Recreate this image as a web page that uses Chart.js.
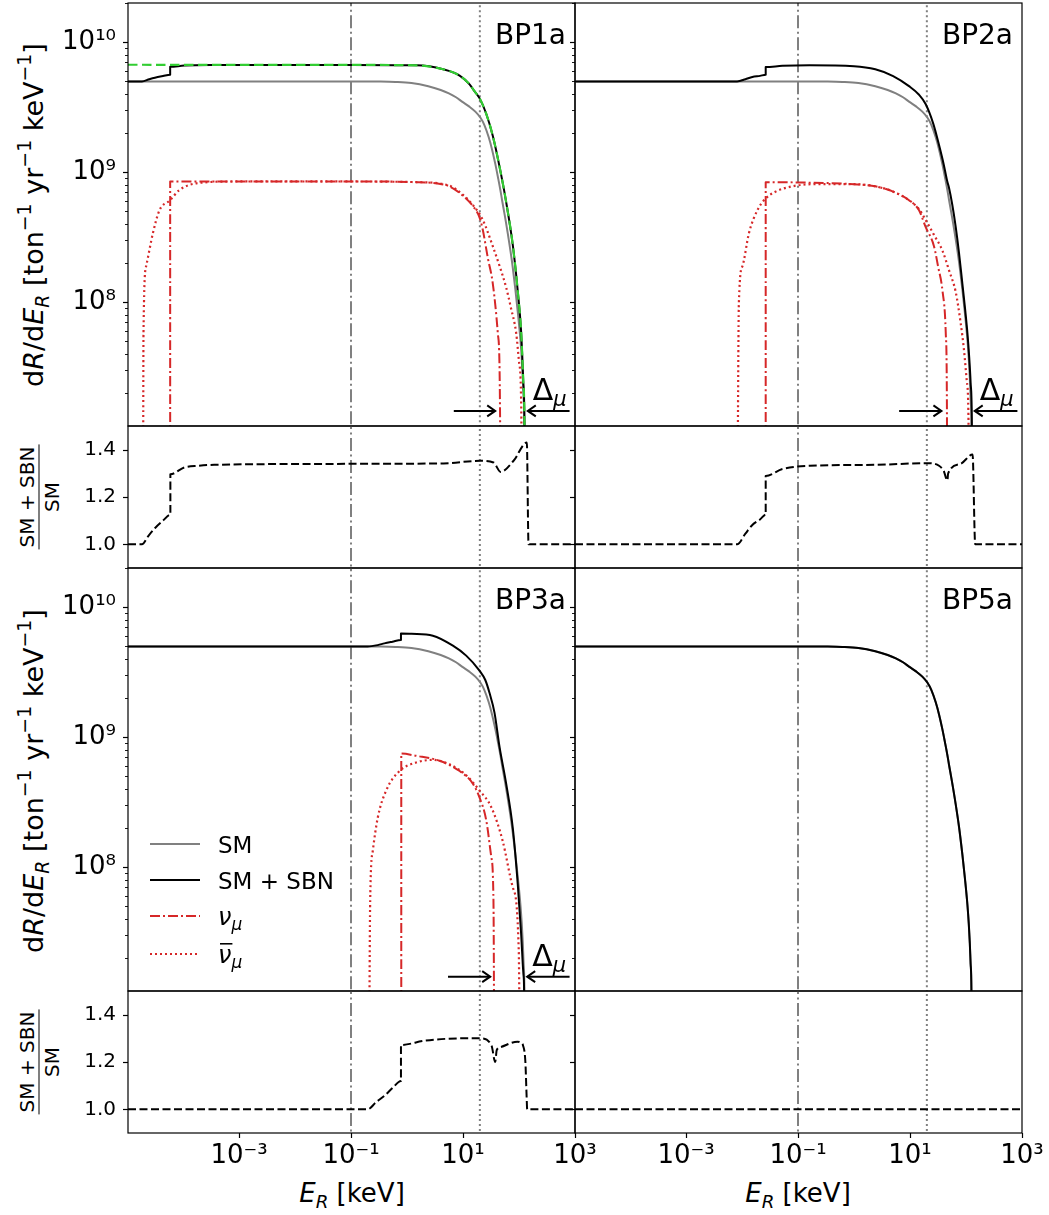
<!DOCTYPE html>
<html lang="en">
<head>
<meta charset="utf-8">
<title>Recoil spectra BP1a–BP5a</title>
<script src="https://cdn.jsdelivr.net/npm/chart.js@4.4.1/dist/chart.umd.min.js"></script>
<style>
  html, body { margin: 0; padding: 0; background: #fff; }
  #fig { position: relative; width: 1049px; height: 1215px; overflow: hidden;
         font-family: 'DejaVu Sans', sans-serif; color: #000; background: #fff; }
  #fig canvas { position: absolute; }
  .t { position: absolute; white-space: nowrap; line-height: 1; transform: translate(-50%, -50%); }
  .r { transform: translate(-50%, -50%) rotate(-90deg); }
  .t sup, .t sub { font-size: 70%; line-height: 0; position: relative; vertical-align: baseline; }
  .t sup { top: -0.62em; }
  .t sub { top: 0.32em; }
  .frac { display: flex; flex-direction: column; align-items: center; font-size: 20px; }
  .frac .n { border-bottom: 1.4px solid #000; padding: 0 2px 2px 2px; }
  .frac .d { padding-top: 2px; }
</style>
</head>
<body>
<div id="fig">
  <div class="t r" style="left:33px;top:215px;font-size:27px">d<i>R</i>/d<i>E</i><sub><i>R</i></sub> [ton<sup>−1</sup> yr<sup>−1</sup> keV<sup>−1</sup>]</div>
  <div class="t r" style="left:33px;top:781px;font-size:27px">d<i>R</i>/d<i>E</i><sub><i>R</i></sub> [ton<sup>−1</sup> yr<sup>−1</sup> keV<sup>−1</sup>]</div>
  <div class="t r frac" style="left:39px;top:497px"><div class="n">SM + SBN</div><div class="d">SM</div></div>
  <div class="t r frac" style="left:39px;top:1062px"><div class="n">SM + SBN</div><div class="d">SM</div></div>
  <div class="t" style="left:352px;top:1193px;font-size:26px"><i>E</i><sub><i>R</i></sub> [keV]</div>
  <div class="t" style="left:798px;top:1193px;font-size:26px"><i>E</i><sub><i>R</i></sub> [keV]</div>
</div>
<script>
// ---------------- data ----------------
// x: recoil energy E_R [keV]; y: dR/dE_R [ton^-1 yr^-1 keV^-1]; ratio: (SM+SBN)/SM
const X_MIN = 1.042e-5, X_MAX = 1000;
const Y_MIN = 1.117e7, Y_MAX = 2.007e10;
const RATIO_MIN = 0.9, RATIO_MAX = 1.5;

const X_TICKS = [1e-3, 1e-1, 1e1, 1e3];
const X_TICK_LABELS = ['10⁻³', '10⁻¹', '10¹', '10³'];
const Y_MAJOR_TICKS = [1e8, 1e9, 1e10];
const Y_MAJOR_LABELS = ['10⁸', '10⁹', '10¹⁰'];
const Y_MINOR_TICKS = [2e7, 3e7, 4e7, 5e7, 6e7, 7e7, 8e7, 9e7,
                       2e8, 3e8, 4e8, 5e8, 6e8, 7e8, 8e8, 9e8,
                       2e9, 3e9, 4e9, 5e9, 6e9, 7e9, 8e9, 9e9, 2e10];
const RATIO_TICKS = [1.0, 1.2, 1.4];
const RATIO_TICK_LABELS = ['1.0', '1.2', '1.4'];

const PANEL_LABELS = ['BP1a', 'BP2a', 'BP3a', 'BP5a'];
const LEGEND_LABELS = ['SM', 'SM + SBN', 'ν_μ', 'ν̄_μ'];

// vertical reference lines [keV]
const REF_DASHDOT_E = 0.1;
const REF_DOTTED_E = 20;

// Standard-model spectrum (same in every panel)
const SM_E = [1.042e-5, 0.1, 0.3, 0.62, 1.2, 2.4, 4, 5.6, 7.5, 9.6, 13, 16.6, 20.4, 24, 28.8, 33, 37.9, 42, 46.5, 49.7, 56, 65.5, 75, 86, 96, 106, 112, 117, 121, 125, 128];
const SM_R = [5.0e9, 5.0e9, 4.99e9, 4.96e9, 4.87e9, 4.6e9, 4.3e9, 4.05e9, 3.78e9, 3.5e9, 3.2e9, 2.93e9, 2.64e9, 2.32e9, 1.86e9, 1.5e9, 1.15e9, 9.2e8, 7.3e8, 6.15e8, 4.6e8, 3.05e8, 2.05e8, 1.26e8, 8.1e7, 5.15e7, 3.7e7, 2.6e7, 1.8e7, 1.11e7, 1e6];

// BP1a
const BP1A_TOT_E = [1.042e-5, 1.85e-5, 2.5e-5, 3.15e-5, 4.4e-5, 5.9e-5, 5.9e-5, 1.06e-4, 3.6e-4, 0.1, 1.46, 4.4, 8.7, 13.1, 16, 19.7, 26, 34, 45, 59, 77.5, 95, 109, 119, 125, 129];
const BP1A_TOT_R = [5.0e9, 5.0e9, 5.2e9, 5.34e9, 5.5e9, 5.63e9, 6.48e9, 6.63e9, 6.68e9, 6.7e9, 6.65e9, 6.2e9, 5.55e9, 4.75e9, 4.21e9, 3.72e9, 2.82e9, 1.91e9, 1.1e9, 5.9e8, 2.75e8, 1.22e8, 6.0e7, 2.5e7, 1.2e7, 1e6];
const BP1A_GREEN_E = [1.042e-5, 1e-3, 0.1, 1.46, 4.4, 8.7, 13.1, 16, 19.7, 26, 34, 45, 59, 77.5, 95, 109, 119, 125, 129];
const BP1A_GREEN_R = [6.72e9, 6.71e9, 6.7e9, 6.65e9, 6.2e9, 5.55e9, 4.75e9, 4.21e9, 3.72e9, 2.82e9, 1.91e9, 1.1e9, 5.9e8, 2.75e8, 1.22e8, 6.0e7, 2.5e7, 1.2e7, 1e6];
const BP1A_NUMU_E = [5.9e-5, 5.9e-5, 1e-3, 0.1, 1.5, 3.5, 5.7, 10, 15, 19.7, 22.6, 27.7, 34, 41.8, 45, 48];
const BP1A_NUMU_R = [1e5, 8.5e8, 8.5e8, 8.5e8, 8.4e8, 8.2e8, 7.8e8, 6.6e8, 5.5e8, 4.5e8, 3.6e8, 2.2e8, 1.4e8, 5.8e7, 3.0e7, 1e6];
const BP1A_NUMUBAR_E = [1.93e-5, 1.97e-5, 2.2e-5, 2.9e-5, 3.8e-5, 5.9e-5, 8.6e-5, 2e-4, 1e-3, 0.1, 1.5, 5.7, 10, 15, 22.6, 34, 45, 59, 72, 89, 100, 109, 115];
const BP1A_NUMUBAR_R = [1e6, 5.8e7, 1.9e8, 3.4e8, 5.1e8, 6.1e8, 7.3e8, 8.3e8, 8.5e8, 8.5e8, 8.4e8, 7.9e8, 6.7e8, 5.6e8, 4.3e8, 2.7e8, 1.9e8, 1.3e8, 9e7, 5.8e7, 3.5e7, 1.8e7, 1e6];
const BP1A_RATIO_E = [1.042e-5, 1.85e-5, 2.4e-5, 3.15e-5, 4.4e-5, 5.95e-5, 5.95e-5, 1.06e-4, 1.9e-4, 3.6e-4, 0.1, 4.5, 20.4, 35, 47, 80, 138, 148, 1000];
const BP1A_RATIO_R = [1.0, 1.0, 1.035, 1.068, 1.1, 1.125, 1.296, 1.325, 1.332, 1.336, 1.34, 1.342, 1.353, 1.346, 1.306, 1.353, 1.43, 1.0, 1.0];
const BP1A_ARROWS = [[6.85, 37.6, 1.46e7], [800, 143.6, 1.46e7]];

// BP2a
const BP2A_TOT_E = [1.042e-5, 8.2e-3, 0.0115, 0.0153, 0.021, 0.0265, 0.0265, 0.0526, 0.16, 1, 2.4, 5, 9.6, 14.5, 19, 26, 33, 40, 46, 49.7, 57, 65.5, 75, 86, 96, 106, 114, 121, 127, 132];
const BP2A_TOT_R = [5.0e9, 5.0e9, 5.2e9, 5.41e9, 5.52e9, 5.63e9, 6.45e9, 6.59e9, 6.66e9, 6.55e9, 6.2e9, 5.5e9, 4.6e9, 3.95e9, 3.35e9, 2.37e9, 1.62e9, 1.15e9, 8.6e8, 7.6e8, 5.6e8, 3.8e8, 2.4e8, 1.4e8, 9.0e7, 5.8e7, 3.8e7, 2.4e7, 1.3e7, 1e6];
const BP2A_NUMU_E = [0.0265, 0.0265, 0.1, 1, 2.4, 5, 9.6, 14.5, 19, 26.8, 32, 37.9, 43.5, 45.5, 46.5];
const BP2A_NUMU_R = [1e5, 8.4e8, 8.35e8, 8.1e8, 7.8e8, 7.1e8, 6.1e8, 5.1e8, 3.8e8, 2.7e8, 1.85e8, 1.24e8, 5.8e7, 2e7, 1e6];
const BP2A_NUMUBAR_E = [8.2e-3, 8.8e-3, 0.0102, 0.0133, 0.0188, 0.0265, 0.04, 0.079, 0.2, 1, 2.4, 5, 9.6, 14.5, 19, 26.8, 37.9, 50, 65.5, 80, 92, 103, 110, 116];
const BP2A_NUMUBAR_R = [1e6, 1e8, 1.9e8, 3.4e8, 5.1e8, 6.3e8, 7.1e8, 7.8e8, 8.1e8, 8.1e8, 7.8e8, 7.1e8, 6.1e8, 5.2e8, 4.3e8, 3.3e8, 2.5e8, 1.75e8, 1.2e8, 7e7, 4.3e7, 2.5e7, 1.5e7, 1e6];
const BP2A_RATIO_E = [1.042e-5, 8.2e-3, 0.0115, 0.0153, 0.021, 0.0265, 0.0265, 0.0526, 0.16, 2.4, 21.8, 33, 40, 46.5, 48, 80, 131, 146, 1000];
const BP2A_RATIO_R = [1.0, 1.0, 1.045, 1.082, 1.105, 1.125, 1.289, 1.318, 1.332, 1.336, 1.343, 1.332, 1.31, 1.27, 1.30, 1.34, 1.38, 1.0, 1.0];
const BP2A_ARROWS = [[6.4, 36.4, 1.46e7], [828, 143, 1.46e7]];

// BP3a
const BP3A_TOT_E = [1.042e-5, 0.198, 0.3, 0.394, 0.55, 0.78, 0.78, 1.2, 2.89, 6.6, 11.4, 19.7, 25, 29.7, 36.5, 45, 59, 77.5, 95, 109, 120, 123, 127];
const BP3A_TOT_R = [5.0e9, 5.0e9, 5.12e9, 5.28e9, 5.44e9, 5.6e9, 6.3e9, 6.25e9, 6.05e9, 5.07e9, 4.25e9, 3.26e9, 2.76e9, 2.2e9, 1.55e9, 8.4e8, 4.4e8, 2.0e8, 7.4e7, 3.1e7, 1.5e7, 1.2e7, 1e6];
const BP3A_NUMU_E = [0.79, 0.79, 1.46, 3.8, 8.7, 15, 19.7, 26, 32, 35, 36.5];
const BP3A_NUMU_R = [1e5, 7.5e8, 7.2e8, 6.6e8, 5.5e8, 4.4e8, 3.45e8, 2.3e8, 1.2e8, 5.5e7, 1e6];
const BP3A_NUMUBAR_E = [0.208, 0.22, 0.245, 0.3, 0.425, 0.735, 1.46, 2.9, 5.7, 11.4, 19.7, 32, 51, 77.5, 99, 105];
const BP3A_NUMUBAR_R = [1e6, 5.5e7, 1.34e8, 2.4e8, 3.9e8, 5.5e8, 6.4e8, 6.7e8, 6.2e8, 5.1e8, 3.9e8, 2.9e8, 1.6e8, 7.0e7, 2.3e7, 1e6];
const BP3A_RATIO_E = [1.042e-5, 0.198, 0.28, 0.394, 0.55, 0.78, 0.78, 2.1, 10, 20.4, 32.3, 37.6, 40, 47, 94, 110, 118, 130, 137, 140, 1000];
const BP3A_RATIO_R = [1.0, 1.0, 1.03, 1.057, 1.09, 1.12, 1.272, 1.29, 1.30, 1.30, 1.27, 1.20, 1.25, 1.263, 1.286, 1.28, 1.27, 1.2, 1.05, 1.0, 1.0];
const BP3A_ARROWS = [[5.4, 30.6, 1.44e7], [800, 140, 1.44e7]];

// BP5a (SM+SBN coincides with SM)
const BP5A_TOT_E = SM_E;
const BP5A_TOT_R = SM_R;
const BP5A_RATIO_E = [1.042e-5, 1000];
const BP5A_RATIO_R = [1.0, 1.0];

// ---------------- styling ----------------
const FONT = "'DejaVu Sans', sans-serif";
const GRAY = '#808080', RED = '#d62728', GREEN = '#32cd32', BLACK = '#000000';
const STY = {
  sm:      { borderColor: GRAY,  borderWidth: 2,   borderDash: [] },
  tot:     { borderColor: BLACK, borderWidth: 2,   borderDash: [] },
  numu:    { borderColor: RED,   borderWidth: 2,   borderDash: [10, 3, 2, 3] },
  numubar: { borderColor: RED,   borderWidth: 2.2, borderDash: [2, 3] },
  green:   { borderColor: GREEN, borderWidth: 2.2, borderDash: [9.5, 4.5] },
  ratio:   { borderColor: BLACK, borderWidth: 2,   borderDash: [8, 3.5] },
  vdd:     { borderColor: GRAY,  borderWidth: 2,   borderDash: [13, 3.5, 2, 3.5] },
  vdot:    { borderColor: GRAY,  borderWidth: 2,   borderDash: [2, 3] }
};
Chart.defaults.font.family = FONT;
Chart.defaults.color = '#000';

function P(E, R) { return E.map((e, i) => ({ x: e, y: R[i] })); }
function line(data, style, order, smooth) {
  const d = Object.assign({ data, order, pointRadius: 0, pointHoverRadius: 0, fill: false, tension: 0,
                         borderCapStyle: 'butt', borderJoinStyle: 'round' }, style);
  if (smooth) d.cubicInterpolationMode = 'monotone';
  return d;
}
function vlines(lo, hi) {
  return [
    line([{ x: REF_DASHDOT_E, y: lo }, { x: REF_DASHDOT_E, y: hi }], STY.vdd, 8, false),
    line([{ x: REF_DOTTED_E, y: lo }, { x: REF_DOTTED_E, y: hi }], STY.vdot, 9, false)
  ];
}

// ---------------- annotation plugin (frame, ticks, labels, arrows, legend) ----------------
function drawSub(ctx, base, sub, x, y, size, bar) {
  ctx.font = 'italic ' + size + 'px ' + FONT;
  ctx.fillText(base, x, y);
  const w = ctx.measureText(base).width;
  if (bar) {
    ctx.save(); ctx.lineWidth = 1.6; ctx.setLineDash([]);
    ctx.beginPath(); ctx.moveTo(x + 2, y - size * 0.78); ctx.lineTo(x + w + 1, y - size * 0.78); ctx.stroke();
    ctx.restore();
  }
  ctx.font = 'italic ' + Math.round(size * 0.7) + 'px ' + FONT;
  ctx.fillText(sub, x + w, y + size * 0.22);
}

const annot = {
  id: 'annot',
  afterDraw(chart, args, o) {
    const { ctx, chartArea: ca } = chart;
    const xs = chart.scales.x, ys = chart.scales.y;
    ctx.save();
    ctx.setLineDash([]);
    ctx.strokeStyle = '#000';
    ctx.fillStyle = '#000';
    // y tick marks (outward, left)
    ys.ticks.forEach(t => {
      const major = o.yMajor.includes(t.value);
      const len = major ? 5 : 3;
      const py = Math.round(ys.getPixelForValue(t.value)) + 0.5;
      ctx.lineWidth = major ? 1.2 : 0.9;
      ctx.beginPath(); ctx.moveTo(ca.left - len, py); ctx.lineTo(ca.left, py); ctx.stroke();
    });
    // x tick marks (outward, bottom)
    if (o.xTicks) {
      xs.ticks.forEach(t => {
        const px = Math.round(xs.getPixelForValue(t.value)) + 0.5;
        ctx.lineWidth = 1.2;
        ctx.beginPath(); ctx.moveTo(px, ca.bottom); ctx.lineTo(px, ca.bottom + 5); ctx.stroke();
      });
    }
    // frame
    ctx.lineWidth = 1.2;
    ctx.strokeRect(ca.left, ca.top, ca.right - ca.left, ca.bottom - ca.top);
    // panel label
    if (o.label) {
      ctx.font = '28px ' + FONT; ctx.textAlign = 'right'; ctx.textBaseline = 'alphabetic';
      ctx.fillText(o.label, ca.right - 9, ca.top + 41);
    }
    // arrows and Delta_mu
    if (o.arrows) {
      ctx.lineWidth = 2;
      o.arrows.forEach(([e0, e1, r]) => {
        const x0 = xs.getPixelForValue(e0), x1 = xs.getPixelForValue(e1), y = ys.getPixelForValue(r);
        const d = Math.sign(x1 - x0);
        ctx.beginPath(); ctx.moveTo(x0, y); ctx.lineTo(x1, y); ctx.stroke();
        ctx.beginPath(); ctx.moveTo(x1 - d * 8, y - 5.5); ctx.lineTo(x1, y); ctx.lineTo(x1 - d * 8, y + 5.5); ctx.stroke();
      });
      const [, eTip, rTip] = o.arrows[1];
      const xt = xs.getPixelForValue(eTip) + 5, yb = ys.getPixelForValue(rTip) - 11;
      ctx.textAlign = 'left'; ctx.textBaseline = 'alphabetic';
      ctx.font = '30px ' + FONT;
      ctx.fillText('Δ', xt, yb);
      const w = ctx.measureText('Δ').width;
      ctx.font = 'italic 21px ' + FONT;
      ctx.fillText('μ', xt + w, yb + 6);
    }
    // legend
    if (o.legend) {
      const styles = [STY.sm, STY.tot, STY.numu, STY.numubar];
      const rowY = [276, 312, 348, 386];
      LEGEND_LABELS.forEach((lab, i) => {
        const y = ca.top + rowY[i];
        const s = styles[i];
        ctx.save();
        ctx.strokeStyle = s.borderColor; ctx.lineWidth = s.borderWidth; ctx.setLineDash(s.borderDash);
        ctx.beginPath(); ctx.moveTo(ca.left + 22, y); ctx.lineTo(ca.left + 72, y); ctx.stroke();
        ctx.restore();
        ctx.textAlign = 'left'; ctx.textBaseline = 'alphabetic';
        const tx = ca.left + 90, by = y + 8.5;
        if (lab.includes('_')) {
          const [base, sub] = lab.split('_');
          const bar = base.includes('\u0304');
          drawSub(ctx, base.replace('\u0304', ''), sub, tx, by, 24, bar);
        } else {
          ctx.font = '23px ' + FONT;
          ctx.fillText(lab, tx, by);
        }
      });
    }
    ctx.restore();
  }
};

// ---------------- panels ----------------
const fig = document.getElementById('fig');

function panel(rect, pad, kind, datasets, ann) {
  const w = rect.x1 - rect.x0 + pad.l + pad.r;
  const h = rect.y1 - rect.y0 + pad.t + pad.b;
  const cv = document.createElement('canvas');
  cv.width = w; cv.height = h;
  Object.assign(cv.style, { left: (rect.x0 - pad.l) + 'px', top: (rect.y0 - pad.t) + 'px', width: w + 'px', height: h + 'px' });
  fig.appendChild(cv);
  const isMain = kind.y === 'main';
  const yMajor = isMain ? Y_MAJOR_TICKS : RATIO_TICKS;
  const yAll = isMain ? Y_MAJOR_TICKS.concat(Y_MINOR_TICKS).sort((a, b) => a - b) : RATIO_TICKS;
  const yLabels = isMain ? Y_MAJOR_LABELS : RATIO_TICK_LABELS;
  new Chart(cv, {
    type: 'line',
    data: { datasets },
    options: {
      responsive: false, animation: false, devicePixelRatio: 1, events: [],
      layout: { padding: { left: 0, top: pad.t, right: pad.r, bottom: 0 } },
      plugins: { legend: { display: false }, tooltip: { enabled: false },
                 annot: Object.assign({ yMajor, xTicks: kind.xLabels }, ann) },
      scales: {
        x: {
          type: 'logarithmic', min: X_MIN, max: X_MAX, bounds: 'data', position: 'bottom',
          afterBuildTicks: s => { s.ticks = X_TICKS.map(v => ({ value: v, major: true })); },
          afterFit: s => { s.height = pad.b; s.paddingLeft = 0; s.paddingRight = 0; },
          ticks: { display: kind.xLabels, autoSkip: false, maxRotation: 0, minRotation: 0, padding: 8,
                   color: '#000', font: { size: 26 },
                   callback: v => { const i = X_TICKS.indexOf(v); return i < 0 ? '' : X_TICK_LABELS[i]; } },
          grid: { display: false, drawTicks: false, tickLength: 0 },
          border: { display: false }
        },
        y: {
          type: isMain ? 'logarithmic' : 'linear',
          min: isMain ? Y_MIN : RATIO_MIN, max: isMain ? Y_MAX : RATIO_MAX, bounds: 'data', position: 'left',
          afterBuildTicks: s => { s.ticks = yAll.map(v => ({ value: v, major: yMajor.includes(v) })); },
          afterFit: s => { s.width = pad.l; s.paddingTop = 0; s.paddingBottom = 0; },
          ticks: { display: kind.yLabels, autoSkip: false, maxRotation: 0, minRotation: 0, padding: 12,
                   color: '#000', font: { size: isMain ? 26 : 20 },
                   callback: v => { const i = yMajor.indexOf(v); return i < 0 ? '' : yLabels[i]; } },
          grid: { display: false, drawTicks: false, tickLength: 0 },
          border: { display: false }
        }
      }
    },
    plugins: [annot]
  });
}

function mainSets(tot, numu, numubar, green) {
  const s = [];
  if (green) s.push(line(green, STY.green, 0, true));
  s.push(line(tot, STY.tot, 1, true));
  s.push(line(P(SM_E, SM_R), STY.sm, 2, true));
  if (numubar) s.push(line(numubar, STY.numubar, 3, true));
  if (numu) s.push(line(numu, STY.numu, 4, true));
  return s.concat(vlines(1e3, 1e13));
}
function ratioSets(r) { return [line(r, STY.ratio, 0, true)].concat(vlines(0, 3)); }

const COL = [{ x0: 128, x1: 575 }, { x0: 575, x1: 1022 }];
const ROWS = { mT: { y0: 3, y1: 426 }, rT: { y0: 426, y1: 568 }, mB: { y0: 568, y1: 991 }, rB: { y0: 991, y1: 1133 } };
const R = (c, r) => Object.assign({}, COL[c], ROWS[r]);
const PADL = [128, 12];

// top row
panel(R(0, 'mT'), { l: PADL[0], r: 8, t: 6, b: 6 }, { y: 'main', yLabels: true, xLabels: false },
  mainSets(P(BP1A_TOT_E, BP1A_TOT_R), P(BP1A_NUMU_E, BP1A_NUMU_R), P(BP1A_NUMUBAR_E, BP1A_NUMUBAR_R), P(BP1A_GREEN_E, BP1A_GREEN_R)),
  { label: PANEL_LABELS[0], arrows: BP1A_ARROWS });
panel(R(1, 'mT'), { l: PADL[1], r: 8, t: 6, b: 6 }, { y: 'main', yLabels: false, xLabels: false },
  mainSets(P(BP2A_TOT_E, BP2A_TOT_R), P(BP2A_NUMU_E, BP2A_NUMU_R), P(BP2A_NUMUBAR_E, BP2A_NUMUBAR_R), null),
  { label: PANEL_LABELS[1], arrows: BP2A_ARROWS });
panel(R(0, 'rT'), { l: PADL[0], r: 8, t: 6, b: 6 }, { y: 'ratio', yLabels: true, xLabels: false },
  ratioSets(P(BP1A_RATIO_E, BP1A_RATIO_R)), {});
panel(R(1, 'rT'), { l: PADL[1], r: 8, t: 6, b: 6 }, { y: 'ratio', yLabels: false, xLabels: false },
  ratioSets(P(BP2A_RATIO_E, BP2A_RATIO_R)), {});
// bottom row
panel(R(0, 'mB'), { l: PADL[0], r: 8, t: 6, b: 6 }, { y: 'main', yLabels: true, xLabels: false },
  mainSets(P(BP3A_TOT_E, BP3A_TOT_R), P(BP3A_NUMU_E, BP3A_NUMU_R), P(BP3A_NUMUBAR_E, BP3A_NUMUBAR_R), null),
  { label: PANEL_LABELS[2], arrows: BP3A_ARROWS, legend: true });
panel(R(1, 'mB'), { l: PADL[1], r: 8, t: 6, b: 6 }, { y: 'main', yLabels: false, xLabels: false },
  mainSets(P(BP5A_TOT_E, BP5A_TOT_R), null, null, null),
  { label: PANEL_LABELS[3] });
panel(R(0, 'rB'), { l: PADL[0], r: 40, t: 6, b: 60 }, { y: 'ratio', yLabels: true, xLabels: true },
  ratioSets(P(BP3A_RATIO_E, BP3A_RATIO_R)), {});
panel(R(1, 'rB'), { l: PADL[1], r: 40, t: 6, b: 60 }, { y: 'ratio', yLabels: false, xLabels: true },
  ratioSets(P(BP5A_RATIO_E, BP5A_RATIO_R)), {});
</script>
</body>
</html>
